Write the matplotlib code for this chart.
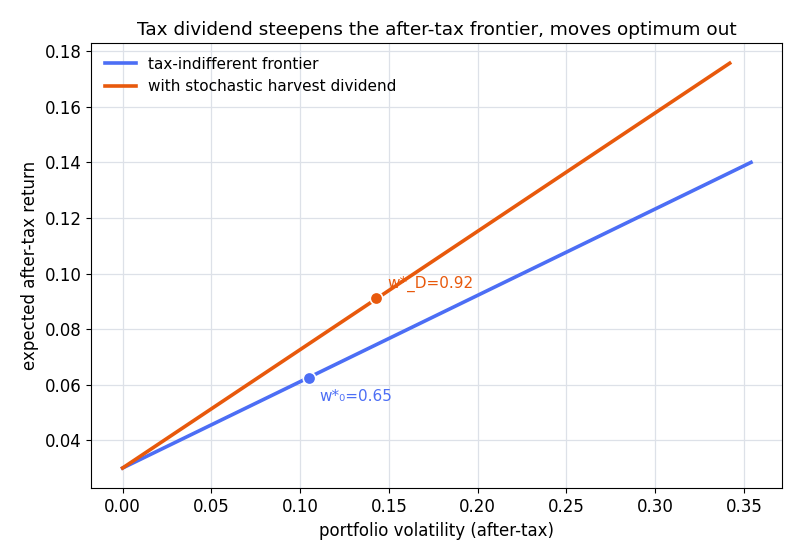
import matplotlib
matplotlib.use("Agg")
import matplotlib.pyplot as plt

# after-tax volatility / expected return along each frontier (straight lines)
vol_base = [0.0, 0.354]
ret_base = [0.030, 0.140]
vol_div = [0.0, 0.342]
ret_div = [0.030, 0.1757]

# optimum points
opt_base = (0.1052, 0.0624)
opt_div = (0.1429, 0.0911)
w_base = 0.65
w_div = 0.92

BLUE = "#4c6ef5"
ORANGE = "#e8590c"

fig, ax = plt.subplots(figsize=(8, 5.58), dpi=100)

ax.plot(vol_base, ret_base, color=BLUE, lw=2.6, label="tax-indifferent frontier", zorder=3)
ax.plot(vol_div, ret_div, color=ORANGE, lw=2.6, label="with stochastic harvest dividend", zorder=3)

ax.scatter([opt_base[0]], [opt_base[1]], s=80, color=BLUE, edgecolor="white", linewidth=1.2, zorder=4)
ax.scatter([opt_div[0]], [opt_div[1]], s=80, color=ORANGE, edgecolor="white", linewidth=1.2, zorder=4)

ax.annotate(f"w*\u2080={w_base:.2f}", opt_base, xytext=(7, -13), textcoords="offset points",
            ha="left", va="center", color=BLUE, fontsize=11, zorder=2)
ax.annotate(f"w*_D={w_div:.2f}", opt_div, xytext=(8, 10), textcoords="offset points",
            ha="left", va="center", color=ORANGE, fontsize=11, zorder=2)

ax.set_title("Tax dividend steepens the after-tax frontier, moves optimum out", fontsize=13.3)
ax.set_xlabel("portfolio volatility (after-tax)", fontsize=12)
ax.set_ylabel("expected after-tax return", fontsize=12)
ax.tick_params(labelsize=12)
ax.grid(True, color="#dde1e8", linewidth=0.9)
ax.set_axisbelow(True)
ax.legend(loc="upper left", frameon=False, fontsize=11)

fig.subplots_adjust(left=0.114, right=0.978, top=0.923, bottom=0.125)
fig.savefig("out.png", dpi=100)
